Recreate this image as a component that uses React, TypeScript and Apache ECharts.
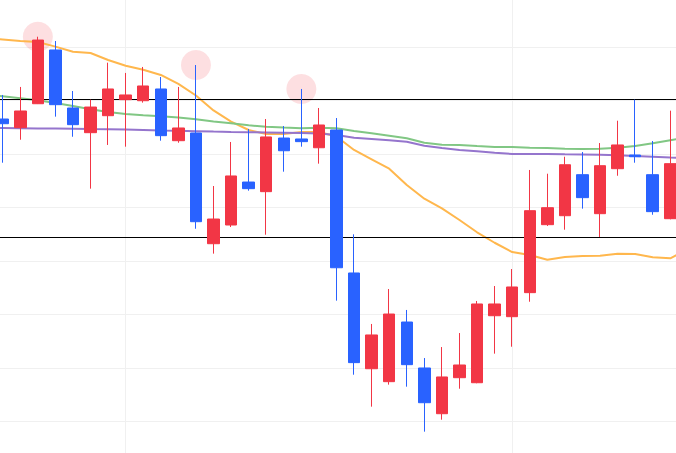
import React, { useEffect, useRef } from "react";
import * as echarts from "echarts";

const dates = [
  "2023-10-20", "2023-10-23", "2023-10-24", "2023-10-25", "2023-10-26", "2023-10-27",
  "2023-10-30", "2023-10-31", "2023-11-01", "2023-11-02", "2023-11-03", "2023-11-06",
  "2023-11-07", "2023-11-08", "2023-11-09", "2023-11-10", "2023-11-13", "2023-11-14",
  "2023-11-15", "2023-11-16", "2023-11-17", "2023-11-20", "2023-11-21", "2023-11-22",
  "2023-11-23", "2023-11-24", "2023-11-27", "2023-11-28", "2023-11-29", "2023-11-30",
  "2023-12-01", "2023-12-04", "2023-12-05", "2023-12-06", "2023-12-07", "2023-12-08",
  "2023-12-11", "2023-12-12", "2023-12-13", "2023-12-14", "2023-12-15",
];

// [open, close, low, high]
const ohlc: (number[] | string)[] = [
  "-",
  [1582.9, 1578.5, 1542.0, 1605.4],
  [1574.8, 1590.4, 1563.5, 1612.9],
  [1597.2, 1656.8, 1596.9, 1659.9],
  [1647.5, 1596.3, 1585.1, 1655.9],
  [1593.2, 1577.6, 1566.3, 1609.1],
  [1570.1, 1594.1, 1517.7, 1601.0],
  [1586.0, 1611.0, 1558.6, 1635.6],
  [1601.0, 1605.4, 1557.0, 1626.0],
  [1600.0, 1613.8, 1598.2, 1631.6],
  [1611.0, 1567.3, 1562.6, 1622.2],
  [1562.6, 1574.5, 1560.7, 1612.9],
  [1569.8, 1486.8, 1480.2, 1633.4],
  [1466.2, 1489.3, 1456.9, 1520.2],
  [1483.7, 1529.6, 1481.8, 1561.4],
  [1523.9, 1517.7, 1515.8, 1573.5],
  [1514.9, 1566.1, 1474.6, 1582.9],
  [1565.1, 1553.2, 1533.6, 1576.3],
  [1564.2, 1561.7, 1557.0, 1611.0],
  [1556.0, 1577.3, 1541.1, 1593.2],
  [1572.6, 1443.7, 1412.9, 1583.8],
  [1438.8, 1354.9, 1343.6, 1475.0],
  [1349.2, 1380.8, 1313.7, 1391.1],
  [1337.1, 1400.4, 1334.3, 1423.8],
  [1392.9, 1353.0, 1332.4, 1404.2],
  [1349.9, 1317.4, 1290.3, 1359.2],
  [1307.1, 1341.5, 1301.5, 1369.5],
  [1340.8, 1352.7, 1330.5, 1382.6],
  [1336.1, 1409.8, 1335.6, 1412.6],
  [1398.8, 1409.8, 1363.3, 1426.6],
  [1397.9, 1425.7, 1369.8, 1442.5],
  [1420.4, 1497.1, 1411.9, 1535.2],
  [1484.0, 1499.9, 1482.8, 1531.7],
  [1492.4, 1540.1, 1479.3, 1547.6],
  [1530.8, 1509.3, 1499.0, 1552.0],
  [1494.3, 1539.2, 1472.5, 1560.4],
  [1536.4, 1558.6, 1529.8, 1581.3],
  [1549.2, 1547.6, 1542.0, 1601.0],
  [1530.8, 1496.2, 1493.3, 1562.3],
  [1489.6, 1541.1, 1489.0, 1590.7],
  "-",
];

const maOrange = [
  1658.2, 1657.3, 1655.9, 1655.0, 1650.6, 1645.9, 1644.7, 1638.1, 1632.8, 1629.0,
  1624.1, 1615.7, 1604.9, 1590.9, 1580.4, 1572.6, 1568.9, 1568.9, 1570.7, 1570.7,
  1566.5, 1553.9, 1545.2, 1536.4, 1521.1, 1508.3, 1499.3, 1488.4, 1476.9, 1467.1,
  1458.4, 1455.6, 1451.2, 1453.8, 1454.7, 1455.0, 1456.9, 1456.6, 1453.5, 1452.5,
  1461.3,
];

const maGreen = [
  1605.8, 1604.1, 1602.3, 1600.4, 1597.9, 1595.1, 1592.0, 1589.5, 1587.6, 1586.4,
  1585.4, 1584.3, 1582.6, 1580.6, 1578.9, 1577.0, 1575.7, 1574.9, 1574.3, 1574.8,
  1574.2, 1571.7, 1569.5, 1567.3, 1564.8, 1560.7, 1558.9, 1558.6, 1557.6, 1556.7,
  1556.7, 1556.0, 1555.8, 1555.1, 1554.8, 1555.1, 1556.0, 1557.6, 1560.2, 1563.0,
  1565.8,
];

const maPurple = [
  1574.7, 1574.5, 1574.3, 1574.1, 1573.9, 1573.7, 1573.5, 1573.4, 1573.0, 1572.6,
  1572.2, 1571.9, 1571.5, 1571.1, 1570.8, 1570.6, 1570.3, 1570.0, 1569.7, 1569.3,
  1567.9, 1565.4, 1564.2, 1563.0, 1561.7, 1557.9, 1555.8, 1553.9, 1552.7, 1551.4,
  1550.2, 1550.2, 1550.2, 1549.9, 1549.7, 1549.4, 1548.9, 1548.3, 1547.6, 1546.9,
  1546.4,
];

const peakDates = ["2023-10-25", "2023-11-07", "2023-11-15"];
const peakValues = [1659.9, 1633.4, 1611.0];

const levels = [1601.0, 1472.5];
const monthStarts = ["2023-11-01", "2023-12-01"];

const yMin = 1250;
const yMax = 1700;
const yStep = 50;

export default function App() {
  const ref = useRef<HTMLDivElement>(null);

  useEffect(() => {
    if (!ref.current) return;
    const chart = echarts.init(ref.current, undefined, { renderer: "svg" });
    const option: any = {
      animation: false,
      backgroundColor: "#ffffff",
      grid: {
        left: -14.87,
        right: -11.87,
        top: -6.13,
        bottom: -21.73,
        outerBoundsMode: "none",
        containLabel: false,
      },
      xAxis: {
        type: "category",
        data: dates,
        boundaryGap: false,
        axisLine: { show: false },
        axisTick: { show: false },
        axisLabel: { show: false },
        splitLine: {
          show: true,
          interval: (_i: number, v: string) => monthStarts.includes(v),
          lineStyle: { color: "#f0f0f0", width: 1 },
        },
      },
      yAxis: {
        type: "value",
        min: yMin,
        max: yMax,
        interval: yStep,
        scale: true,
        axisLine: { show: false },
        axisTick: { show: false },
        axisLabel: { show: false },
        splitLine: { show: true, lineStyle: { color: "#f0f0f0", width: 1 } },
      },
      series: [
        {
          type: "scatter",
          data: peakDates.map((d, i) => [d, peakValues[i]]),
          symbolSize: 30,
          itemStyle: { color: "rgba(242,54,69,0.2)" },
          silent: true,
          z: 1,
        },
        {
          type: "line",
          data: maOrange,
          showSymbol: false,
          lineStyle: { color: "#FFB74D", width: 2 },
          silent: true,
          z: 2,
        },
        {
          type: "line",
          data: maGreen,
          showSymbol: false,
          lineStyle: { color: "#81C784", width: 2 },
          silent: true,
          z: 2,
        },
        {
          type: "line",
          data: maPurple,
          showSymbol: false,
          lineStyle: { color: "#9575CD", width: 2 },
          silent: true,
          z: 2,
        },
        {
          type: "candlestick",
          data: ohlc,
          barWidth: 12,
          z: 5,
          itemStyle: {
            color: "#F23645",
            color0: "#2962FF",
            borderColor: "#F23645",
            borderColor0: "#2962FF",
            borderWidth: 1,
          },
          markLine: {
            silent: true,
            symbol: ["none", "none"],
            label: { show: false },
            lineStyle: { color: "#000000", width: 1, type: "solid" },
            emphasis: { disabled: true },
            data: levels.map((v) => ({ yAxis: v })),
          },
        },
      ],
    };
    chart.setOption(option);
    return () => chart.dispose();
  }, []);

  return (
    <div
      ref={ref}
      style={{ position: "fixed", left: 0, top: 0, width: 676, height: 453 }}
    />
  );
}
